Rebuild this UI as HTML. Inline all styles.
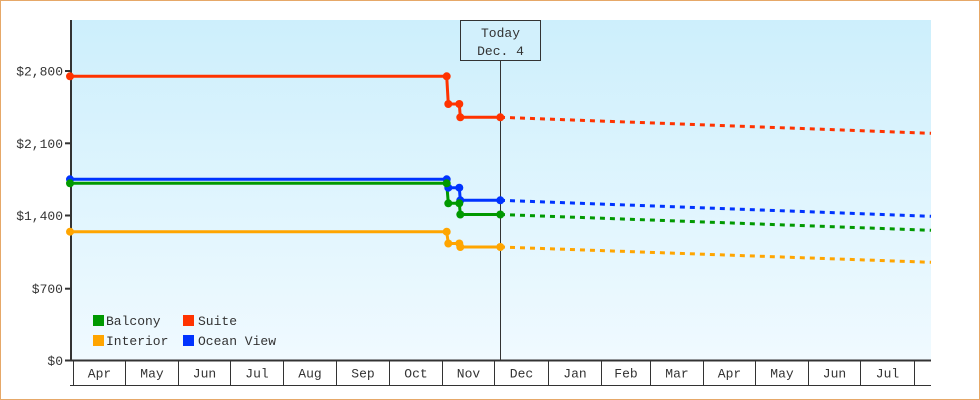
<!DOCTYPE html>
<html><head><meta charset="utf-8"><style>
html,body{margin:0;padding:0;background:#fff;}
svg{display:block;}
text{font-family:"Liberation Mono","DejaVu Sans Mono",monospace;font-size:13px;fill:#333;}
</style></head><body>
<svg width="980" height="400" viewBox="0 0 980 400" xmlns="http://www.w3.org/2000/svg">
<defs>
<linearGradient id="bg" x1="0" y1="0" x2="0" y2="1">
<stop offset="0" stop-color="#cdeffc"/>
<stop offset="1" stop-color="#f0faff"/>
</linearGradient>
</defs>
<rect x="0.5" y="0.5" width="979" height="399" fill="#fff" stroke="#e6a868" stroke-width="1"/>
<rect x="71" y="20" width="860" height="340" fill="url(#bg)"/>

<!-- today marker -->
<line x1="500.5" y1="60" x2="500.5" y2="360" stroke="#333" stroke-width="1"/>
<rect x="460.5" y="20.5" width="80" height="40" fill="#d2f0fc" stroke="#333" stroke-width="1"/>
<text x="500.5" y="37" text-anchor="middle">Today</text>
<text x="500.5" y="55" text-anchor="middle">Dec. 4</text>

<!-- y axis -->
<line x1="71" y1="20" x2="71" y2="361" stroke="#333" stroke-width="2"/>
<g stroke="#333" stroke-width="2">
<line x1="65" y1="71" x2="71" y2="71"/>
<line x1="65" y1="143.3" x2="71" y2="143.3"/>
<line x1="65" y1="215.5" x2="71" y2="215.5"/>
<line x1="65" y1="288.7" x2="71" y2="288.7"/>
<line x1="65" y1="360.5" x2="71" y2="360.5"/>
</g>
<g text-anchor="end">
<text x="63" y="75.5">$2,800</text>
<text x="63" y="147.8">$2,100</text>
<text x="63" y="220">$1,400</text>
<text x="63" y="293">$700</text>
<text x="63" y="365">$0</text>
</g>

<!-- x axis month boxes -->
<line x1="70" y1="360.5" x2="931" y2="360.5" stroke="#333" stroke-width="2"/>
<line x1="70" y1="385.5" x2="931" y2="385.5" stroke="#333" stroke-width="1"/>
<g stroke="#333" stroke-width="1">
<line x1="73.5" y1="361" x2="73.5" y2="385"/>
<line x1="125.5" y1="361" x2="125.5" y2="385"/>
<line x1="178.5" y1="361" x2="178.5" y2="385"/>
<line x1="230.5" y1="361" x2="230.5" y2="385"/>
<line x1="283.5" y1="361" x2="283.5" y2="385"/>
<line x1="336.5" y1="361" x2="336.5" y2="385"/>
<line x1="389.5" y1="361" x2="389.5" y2="385"/>
<line x1="442.5" y1="361" x2="442.5" y2="385"/>
<line x1="494.5" y1="361" x2="494.5" y2="385"/>
<line x1="548.5" y1="361" x2="548.5" y2="385"/>
<line x1="601.5" y1="361" x2="601.5" y2="385"/>
<line x1="650.5" y1="361" x2="650.5" y2="385"/>
<line x1="703.5" y1="361" x2="703.5" y2="385"/>
<line x1="755.5" y1="361" x2="755.5" y2="385"/>
<line x1="808.5" y1="361" x2="808.5" y2="385"/>
<line x1="860.5" y1="361" x2="860.5" y2="385"/>
<line x1="914.5" y1="361" x2="914.5" y2="385"/>
</g>
<g text-anchor="middle">
<text x="99.5" y="377.5">Apr</text>
<text x="152" y="377.5">May</text>
<text x="204.5" y="377.5">Jun</text>
<text x="257" y="377.5">Jul</text>
<text x="310" y="377.5">Aug</text>
<text x="363" y="377.5">Sep</text>
<text x="416" y="377.5">Oct</text>
<text x="468.5" y="377.5">Nov</text>
<text x="521.5" y="377.5">Dec</text>
<text x="575" y="377.5">Jan</text>
<text x="626" y="377.5">Feb</text>
<text x="677" y="377.5">Mar</text>
<text x="729.5" y="377.5">Apr</text>
<text x="782" y="377.5">May</text>
<text x="834.5" y="377.5">Jun</text>
<text x="887.5" y="377.5">Jul</text>
</g>

<!-- forecasts (dashed) -->
<g fill="none" stroke-width="3" stroke-dasharray="5 5">
<line x1="500" y1="117.3" x2="931" y2="133.3" stroke="#ff3300"/>
<line x1="500" y1="200.3" x2="931" y2="216.3" stroke="#0033ff"/>
<line x1="500" y1="214.5" x2="931" y2="230.3" stroke="#009900"/>
<line x1="500" y1="247" x2="931" y2="262.3" stroke="#ffa500"/>
</g>

<!-- history lines -->
<g fill="none" stroke-width="3" stroke-linejoin="round">
<polyline stroke="#ffa500" points="70,231.7 446.7,231.7 448.3,243.5 459.3,243.5 460.3,247 500.3,247"/>
<polyline stroke="#0033ff" points="70,179.3 446.7,179.3 448.3,187.7 459.3,187.7 460.3,200.3 500.3,200.3"/>
<polyline stroke="#009900" points="70,183.3 446.7,183.3 448.3,203.3 459.3,203.3 460.3,214.5 500.3,214.5"/>
<polyline stroke="#ff3300" points="70,76.3 446.7,76.3 448.3,104 459.3,104 460.3,117.3 500.3,117.3"/>
</g>
<g>
<g fill="#ffa500">
<circle cx="70" cy="231.7" r="4"/><circle cx="446.7" cy="231.7" r="4"/><circle cx="448.3" cy="243.5" r="4"/><circle cx="459.3" cy="243.5" r="4"/><circle cx="460.3" cy="247" r="4"/><circle cx="500.3" cy="247" r="4"/>
</g>
<g fill="#0033ff">
<circle cx="70" cy="179.3" r="4"/><circle cx="446.7" cy="179.3" r="4"/><circle cx="448.3" cy="187.7" r="4"/><circle cx="459.3" cy="187.7" r="4"/><circle cx="460.3" cy="200.3" r="4"/><circle cx="500.3" cy="200.3" r="4"/>
</g>
<g fill="#009900">
<circle cx="70" cy="183.3" r="4"/><circle cx="446.7" cy="183.3" r="4"/><circle cx="448.3" cy="203.3" r="4"/><circle cx="459.3" cy="203.3" r="4"/><circle cx="460.3" cy="214.5" r="4"/><circle cx="500.3" cy="214.5" r="4"/>
</g>
<g fill="#ff3300">
<circle cx="70" cy="76.3" r="4"/><circle cx="446.7" cy="76.3" r="4"/><circle cx="448.3" cy="104" r="4"/><circle cx="459.3" cy="104" r="4"/><circle cx="460.3" cy="117.3" r="4"/><circle cx="500.3" cy="117.3" r="4"/>
</g>
</g>

<!-- legend -->
<rect x="93" y="315" width="11" height="11" fill="#009900"/>
<text x="106" y="325">Balcony</text>
<rect x="183" y="315" width="11" height="11" fill="#ff3300"/>
<text x="198" y="325">Suite</text>
<rect x="93" y="335" width="11" height="11" fill="#ffa500"/>
<text x="106" y="345">Interior</text>
<rect x="183" y="335" width="11" height="11" fill="#0033ff"/>
<text x="198" y="345">Ocean View</text>
</svg>
</body></html>
